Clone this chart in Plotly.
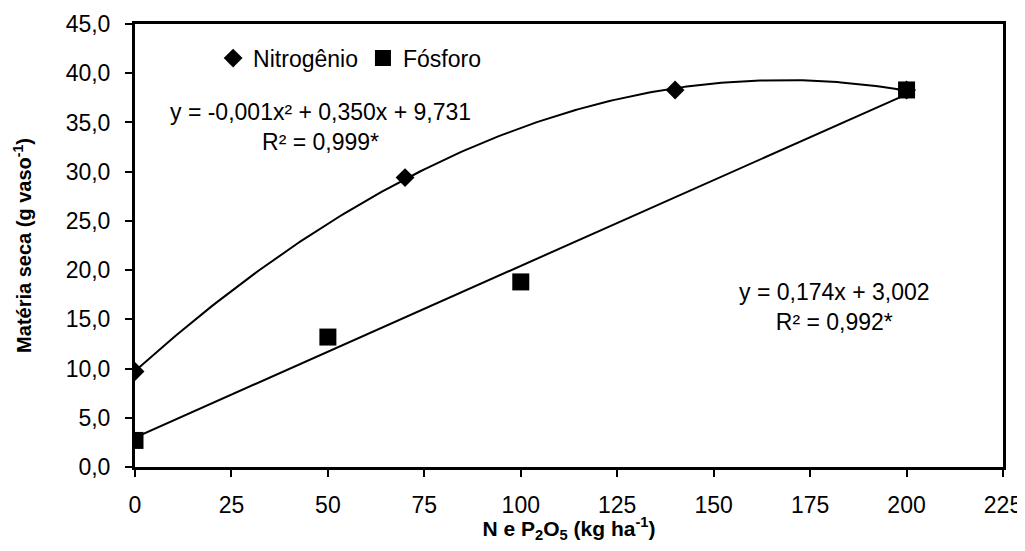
import numpy as np
import plotly.graph_objects as go

# Data
n_dose = [0, 70, 140, 200]
n_mass = [9.7, 29.4, 38.3, 38.3]
p_dose = [0, 50, 100, 200]
p_mass = [2.7, 13.2, 18.8, 38.3]
x_ticks = [0, 25, 50, 75, 100, 125, 150, 175, 200, 225]
y_ticks = [0, 5, 10, 15, 20, 25, 30, 35, 40, 45]

# Trend lines fitted from the data (as in the original spreadsheet trendlines)
n_coef = np.polyfit(n_dose, n_mass, 2)
p_coef = np.polyfit(p_dose, p_mass, 1)
xs = np.linspace(0, 200, 201)

FONT = "Liberation Sans, Arial, sans-serif"
FS = 23

fig = go.Figure()
fig.add_trace(go.Scatter(x=xs, y=np.polyval(n_coef, xs), mode="lines",
                         line=dict(color="black", width=2), showlegend=False, hoverinfo="skip"))
fig.add_trace(go.Scatter(x=xs, y=np.polyval(p_coef, xs), mode="lines",
                         line=dict(color="black", width=2), showlegend=False, hoverinfo="skip"))
fig.add_trace(go.Scatter(x=n_dose, y=n_mass, mode="markers", name="Nitrogênio",
                         marker=dict(symbol="diamond", size=14.5, color="black")))
fig.add_trace(go.Scatter(x=p_dose, y=p_mass, mode="markers", name="Fósforo",
                         marker=dict(symbol="square", size=17, color="black")))

fig.add_annotation(text="y = -0,001x² + 0,350x + 9,731<br>R² = 0,999*", x=0.214, y=0.767,
                   xref="paper", yref="paper", showarrow=False, align="center",
                   xanchor="center", yanchor="middle",
                   font=dict(family=FONT, size=FS, color="black"))
fig.add_annotation(text="y = 0,174x + 3,002<br>R² = 0,992*", x=0.806, y=0.361,
                   xref="paper", yref="paper", showarrow=False, align="center",
                   xanchor="center", yanchor="middle",
                   font=dict(family=FONT, size=FS, color="black"))

fig.update_layout(
    width=1017, height=535,
    margin=dict(l=127, r=22, t=16, b=76),
    paper_bgcolor="white", plot_bgcolor="white",
    separators=",.",
    font=dict(family=FONT, size=FS, color="black"),
    legend=dict(orientation="h", x=0.09, y=0.923, xanchor="left", yanchor="middle",
                font=dict(family=FONT, size=FS, color="black"), bgcolor="rgba(0,0,0,0)",
                itemwidth=30, tracegroupgap=0),
    xaxis=dict(range=[0, 225], tickvals=x_ticks, ticks="outside", ticklen=7, tickwidth=2,
               tickcolor="black", showline=True, linecolor="black", linewidth=3, mirror=True,
               showgrid=False, zeroline=False, tickfont=dict(size=FS), ticklabelstandoff=8,
               automargin=False,
               title=dict(text="<b>N e P<sub>2</sub>O<sub>5</sub> (kg ha<sup>-1</sup>)</b>",
                          font=dict(size=21), standoff=12)),
    yaxis=dict(range=[0, 45], tickvals=y_ticks, tickformat=".1f", ticks="outside", ticklen=7,
               tickwidth=2, tickcolor="black", showline=True, linecolor="black", linewidth=3,
               mirror=True, showgrid=False, zeroline=False, tickfont=dict(size=FS),
               ticklabelstandoff=10, automargin=False,
               title=dict(text="<b>Matéria seca (g vaso<sup>-1</sup>)</b>",
                          font=dict(size=20), standoff=29)),
)

fig.write_html("out.html")
